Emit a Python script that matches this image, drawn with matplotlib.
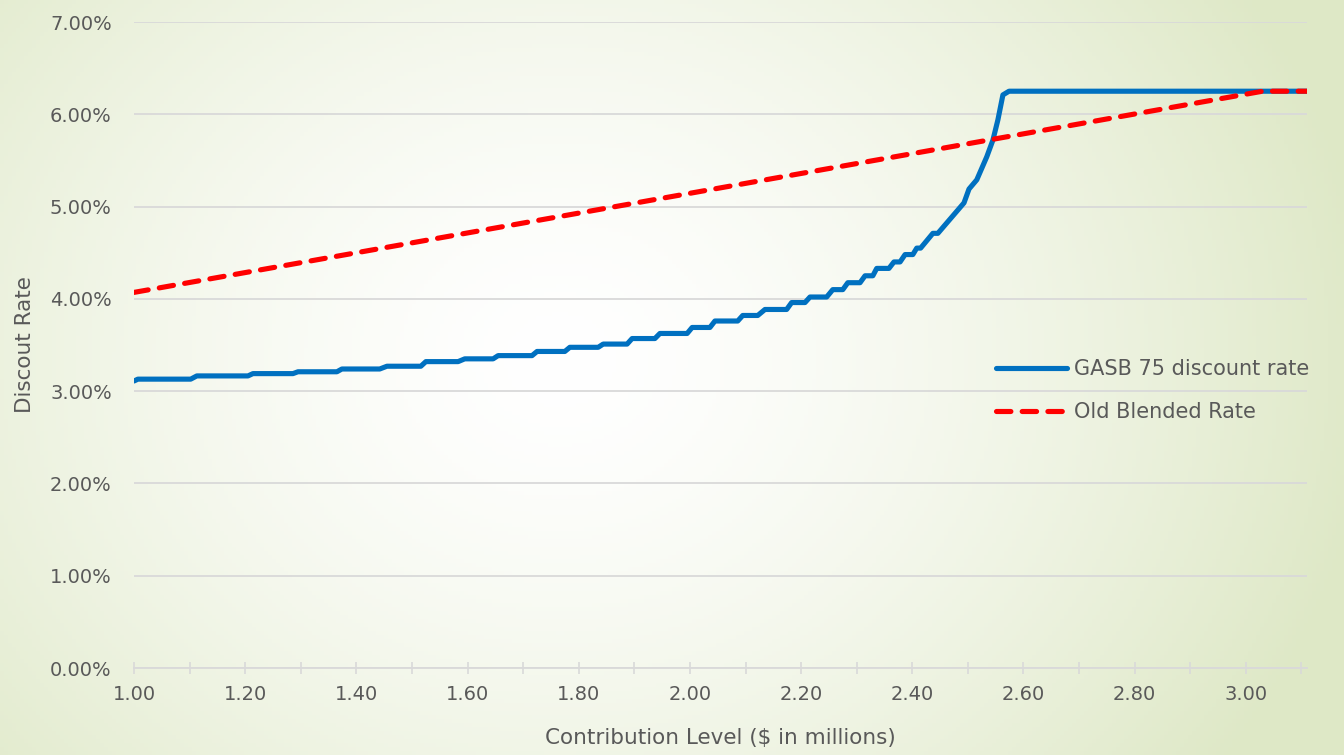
import numpy as np
import matplotlib
matplotlib.use("Agg")
import matplotlib.pyplot as plt
from matplotlib.ticker import MultipleLocator, FuncFormatter

# GASB 75 discount rate (%)
gasb_x = [1.000, 1.007, 1.102, 1.113, 1.205, 1.214, 1.286, 1.295, 1.365, 1.374,
          1.442, 1.455, 1.516, 1.525, 1.583, 1.595, 1.646, 1.655, 1.716, 1.725,
          1.775, 1.784, 1.835, 1.844, 1.887, 1.896, 1.937, 1.946, 1.995, 2.004,
          2.036, 2.045, 2.086, 2.095, 2.122, 2.135, 2.174, 2.183, 2.207, 2.216,
          2.246, 2.257, 2.275, 2.284, 2.306, 2.315, 2.329, 2.336, 2.358, 2.367,
          2.378, 2.387, 2.401, 2.408, 2.415, 2.437, 2.446, 2.493, 2.502, 2.516,
          2.534, 2.545, 2.554, 2.563, 2.574, 3.110]
gasb_y = [3.11, 3.13, 3.13, 3.165, 3.165, 3.19, 3.19, 3.21, 3.21, 3.24,
          3.24, 3.27, 3.27, 3.32, 3.32, 3.35, 3.35, 3.385, 3.385, 3.43,
          3.43, 3.475, 3.475, 3.51, 3.51, 3.57, 3.57, 3.625, 3.625, 3.69,
          3.69, 3.76, 3.76, 3.82, 3.82, 3.885, 3.885, 3.96, 3.96, 4.02,
          4.02, 4.10, 4.10, 4.175, 4.175, 4.25, 4.25, 4.33, 4.33, 4.40,
          4.40, 4.48, 4.48, 4.55, 4.55, 4.71, 4.71, 5.04, 5.19, 5.29,
          5.54, 5.72, 5.94, 6.21, 6.25, 6.25]

# Old blended rate (%)
old_x = [1.00, 3.03, 3.11]
old_y = [4.07, 6.25, 6.25]

text_color = "#595959"
grid_color = "#D9D9D9"
plt.rcParams["font.family"] = ["DejaVu Sans"]

fig = plt.figure(figsize=(13.44, 7.55), dpi=100)

# background: soft radial gradient, white centre to pale green edges
bg = fig.add_axes([0, 0, 1, 1], zorder=-10)
gx, gy = np.meshgrid(np.linspace(0, 1344, 336), np.linspace(0, 755, 189))
d = np.sqrt(((gx - 560) / 820) ** 2 + ((gy - 360) / 700) ** 2)
t = np.clip(d, 0, 1) ** 1.5
edge = np.array([222, 232, 198]) / 255
img = (1 - t[..., None]) * np.ones(3) + t[..., None] * edge
bg.imshow(img, extent=[0, 1344, 755, 0], aspect="auto")
bg.set_axis_off()

ax = fig.add_axes([134 / 1344, 1 - 668 / 755, 1173 / 1344, 646 / 755])
ax.patch.set_alpha(0)

ax.plot(gasb_x, gasb_y, color="#0070C0", lw=3.7, solid_capstyle="round",
        solid_joinstyle="round", label="GASB 75 discount rate", zorder=3)
ax.plot(old_x, old_y, color="#FF0000", lw=3.7, dashes=(2.8, 2.2),
        dash_capstyle="round", label="Old Blended Rate", zorder=4)

ax.set_xlim(1.0, 3.11)
ax.set_ylim(0, 7)
ax.yaxis.set_major_locator(MultipleLocator(1))
ax.yaxis.set_major_formatter(FuncFormatter(lambda v, p: f"{v:.2f}%"))
ax.xaxis.set_major_locator(MultipleLocator(0.2))
ax.xaxis.set_minor_locator(MultipleLocator(0.1))
ax.xaxis.set_major_formatter(FuncFormatter(lambda v, p: f"{v:.2f}"))

ax.grid(axis="y", color=grid_color, lw=1.3)
ax.set_axisbelow(True)
for s in ["top", "right", "left"]:
    ax.spines[s].set_visible(False)
ax.spines["bottom"].set_color(grid_color)
ax.spines["bottom"].set_linewidth(1.3)

ax.tick_params(axis="y", length=0, pad=16, labelsize=14, labelcolor=text_color)
ax.tick_params(axis="x", which="both", direction="inout", length=9,
               width=1.2, color=grid_color, pad=8, labelsize=14,
               labelcolor=text_color)

ax.set_xlabel("Contribution Level ($ in millions)", fontsize=15.5, color=text_color)
ax.xaxis.set_label_coords(0.5, -0.108)
ax.xaxis.label.set_va("center")
ax.set_ylabel("Discout Rate", fontsize=15.5, color=text_color)
ax.yaxis.set_label_coords(-0.0929, 0.5)
ax.yaxis.label.set_va("center")

ax.legend(loc="upper left", bbox_to_anchor=(0.735, 0.478), frameon=False,
          fontsize=15, handlelength=3.4, handletextpad=0.35, labelspacing=1.09,
          borderpad=0, borderaxespad=0, labelcolor=text_color)

fig.savefig("out.png", dpi=100)
